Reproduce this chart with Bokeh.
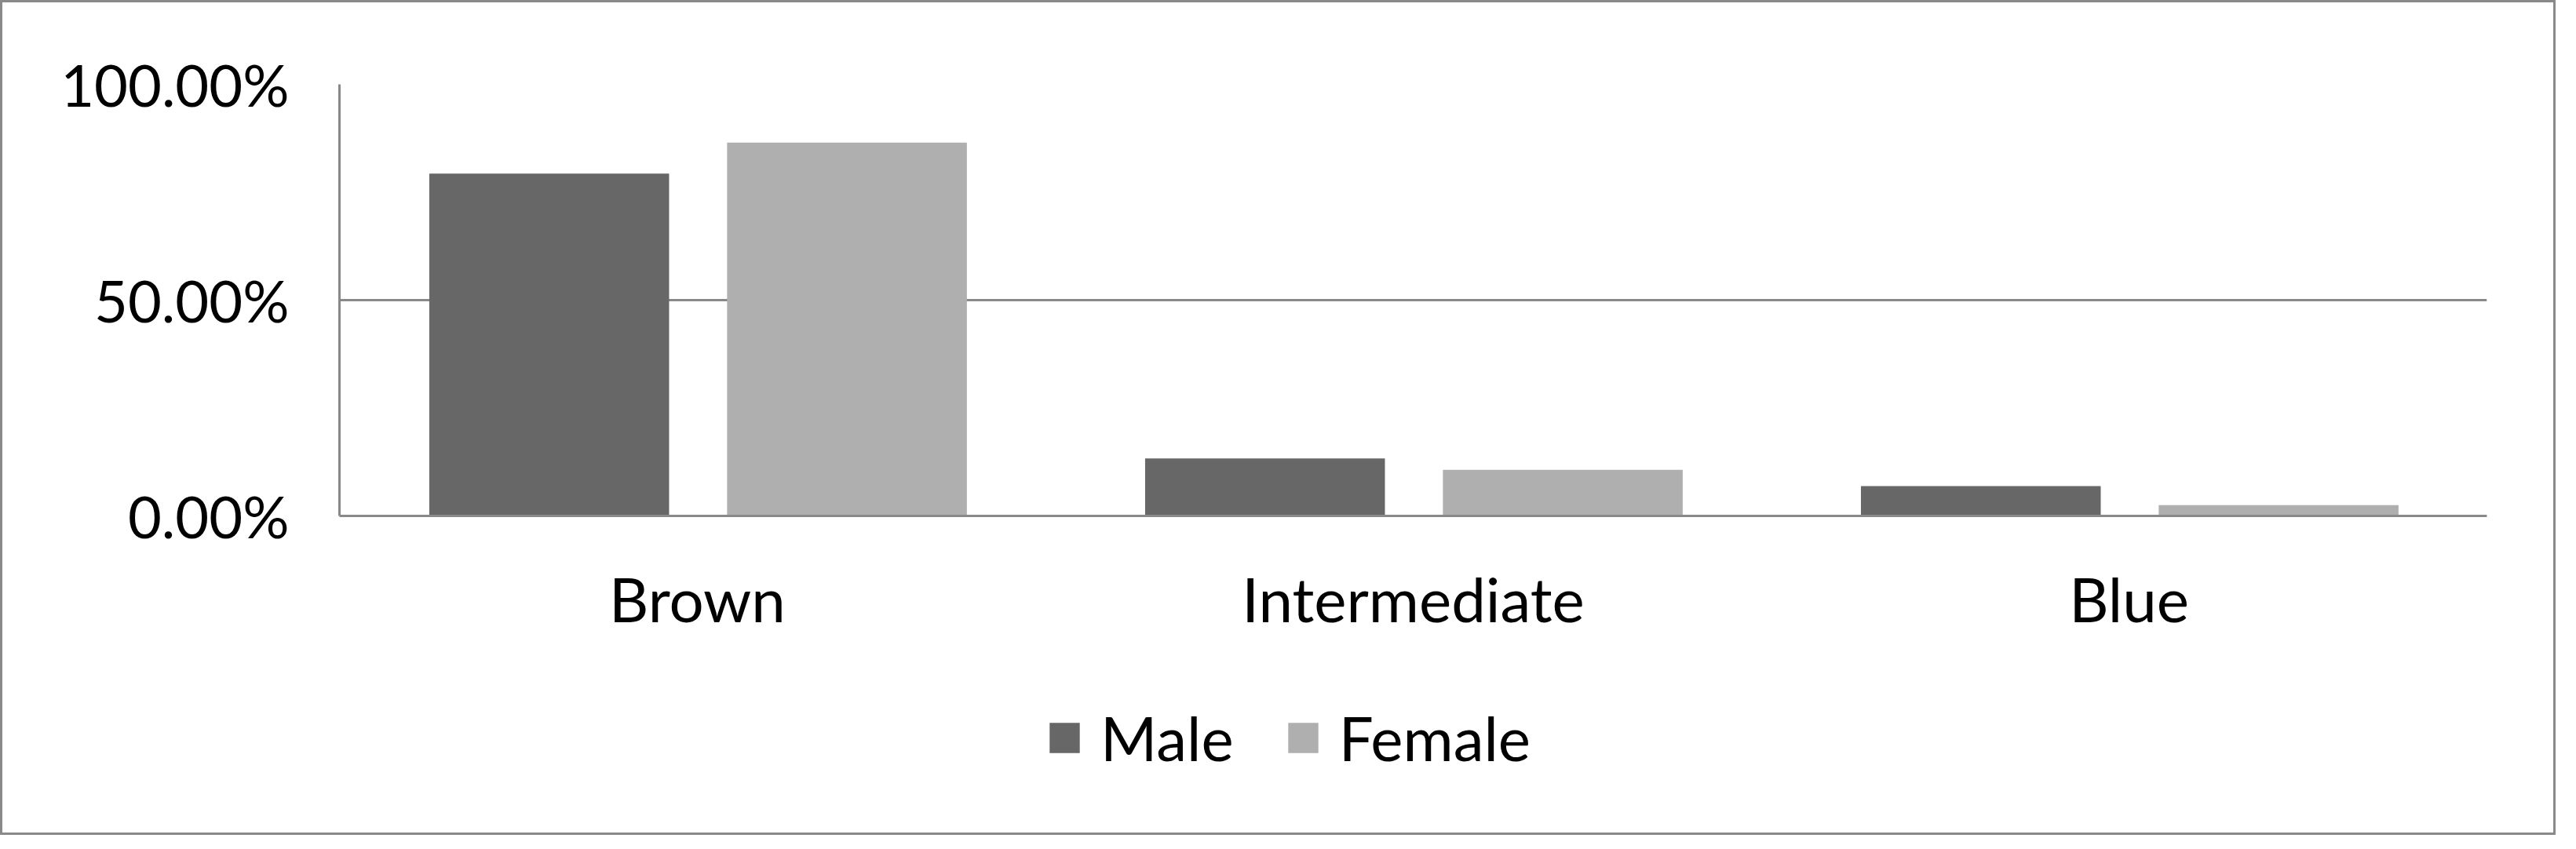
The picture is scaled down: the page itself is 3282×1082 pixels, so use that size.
from bokeh.plotting import figure
from bokeh.models import (FactorRange, Range1d, FixedTicker, NumeralTickFormatter, Legend,
                          LegendItem, ColumnDataSource)
from bokeh.transform import dodge
from bokeh.embed import file_html
from bokeh.resources import INLINE

categories = ["Brown", "Intermediate", "Blue"]
male = [0.793, 0.133, 0.069]
female = [0.865, 0.107, 0.025]
series = ["Male", "Female"]
y_ticks = [0.0, 0.5, 1.0]

FONT = "Lato"
GREY = "#898989"

# layout (figure pixels): plot area 100%..0% spans TOP..BOTTOM_0, frame extends to figure bottom
FIG_W, FIG_H = 3256, 1064
TOP, BOTTOM_0, FRAME_BOTTOM = 104, 654, 1064
y_min = -(FRAME_BOTTOM - BOTTOM_0) / (BOTTOM_0 - TOP)

src = ColumnDataSource(dict(cat=categories, male=male, female=female))

p = figure(x_range=FactorRange(*categories), y_range=Range1d(y_min, 1),
           width=FIG_W, height=FIG_H, output_backend="svg", toolbar_location=None,
           min_border_left=429, min_border_right=91, min_border_top=TOP, min_border_bottom=0)
p.styles = {"border": "3px solid #898989"}
p.outline_line_color = None
p.background_fill_color = "white"
p.border_fill_color = "white"

r1 = p.vbar(x=dodge("cat", -0.207, range=p.x_range), top="male", width=0.335, source=src,
            fill_color="#676767", line_color=None)
r2 = p.vbar(x=dodge("cat", 0.209, range=p.x_range), top="female", width=0.335, source=src,
            fill_color="#afafaf", line_color=None)

p.xgrid.grid_line_color = None
p.ygrid.grid_line_color = GREY
p.ygrid.grid_line_width = 3
p.ygrid.ticker = FixedTicker(ticks=y_ticks)

p.yaxis.ticker = FixedTicker(ticks=y_ticks)
p.yaxis.formatter = NumeralTickFormatter(format="0.00%")
p.yaxis.bounds = (0, 1)
p.xaxis.fixed_location = 0
for ax in (p.xaxis[0], p.yaxis[0]):
    ax.axis_line_color = GREY
    ax.axis_line_width = 3
    ax.major_tick_line_color = None
    ax.minor_tick_line_color = None
    ax.major_label_text_font = FONT
    ax.major_label_text_color = "black"
p.yaxis.major_label_text_font_size = "74px"
p.xaxis.major_label_text_font_size = "78px"
p.yaxis.major_label_standoff = 58
p.xaxis.major_label_standoff = 52

legend = Legend(items=[LegendItem(label=series[0], renderers=[r1]),
                       LegendItem(label=series[1], renderers=[r2])],
                orientation="horizontal", location=(900, 80))
legend.label_text_font = FONT
legend.label_text_font_size = "78px"
legend.label_text_color = "black"
legend.glyph_width = 48
legend.glyph_height = 48
legend.label_standoff = 22
legend.spacing = 64
legend.border_line_color = None
legend.background_fill_alpha = 0
legend.margin = 0
legend.padding = 0
p.add_layout(legend, "center")

open("out.html", "w").write(file_html(p, INLINE))
